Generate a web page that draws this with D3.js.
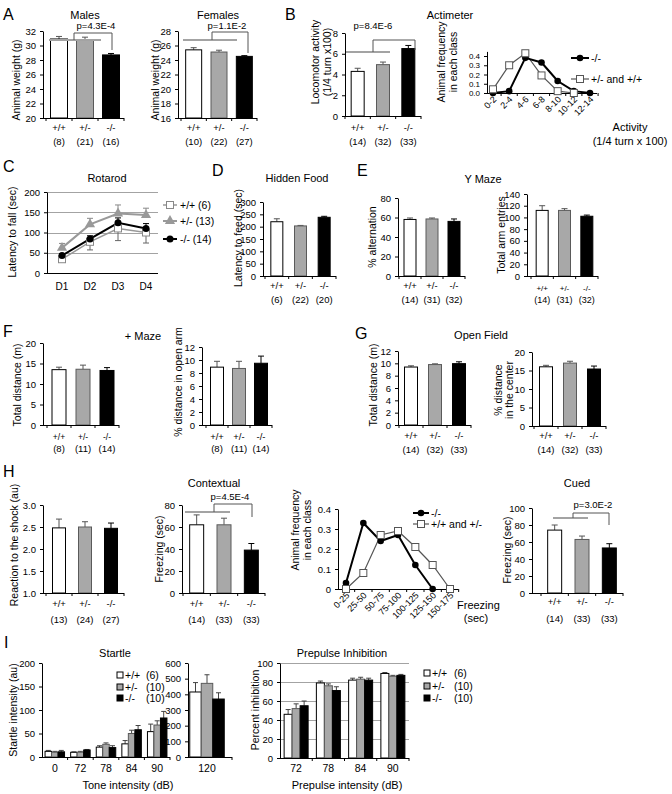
<!DOCTYPE html>
<html><head><meta charset="utf-8">
<script src="https://cdn.jsdelivr.net/npm/d3@7"></script>
<style>body{margin:0;background:#fff}svg{display:block}</style>
</head><body><svg id="fig" width="672" height="794"></svg>
<script>
// ---------------- DATA ----------------
const genotypes = ["+/+", "+/-", "-/-"];
// A
const maleWeight = [30.9, 30.8, 28.7];
const maleWeightSem = [0.35, 0.35, 0.2];
const maleN = ["(8)", "(21)", "(16)"];
const femaleWeight = [25.4, 25.1, 24.5];
const femaleWeightSem = [0.3, 0.25, 0.1];
const femaleN = ["(10)", "(22)", "(27)"];
const maleTicks = [20, 22, 24, 26, 28, 30, 32];
const femaleTicks = [16, 18, 20, 22, 24, 26, 28];
// B
const locomotor = [4.3, 4.95, 6.5];
const locomotorSem = [0.3, 0.25, 0.3];
const locomotorN = ["(14)", "(32)", "(33)"];
const locomotorTicks = [0, 2, 4, 6, 8];
const activityClasses = ["0-2", "2-4", "4-6", "6-8", "8-10", "10-12", "12-14"];
const activityKO = [0, 0.02, 0.38, 0.33, 0.13, 0.02, 0];
const activityCtrl = [0.04, 0.30, 0.43, 0.19, 0.02, 0, null];
const freqTicks = [0, 0.1, 0.2, 0.3, 0.4];
// C
const days = ["D1", "D2", "D3", "D4"];
const rotarodWT = [34, 77, 110, 100];
const rotarodWTSem = [6, 20, 30, 26];
const rotarodHet = [62, 120, 147, 143];
const rotarodHetSem = [11, 15, 21, 17];
const rotarodKO = [43, 84, 124, 110];
const rotarodKOSem = [5, 8, 12, 12];
const rotarodTicks = [0, 50, 100, 150, 200];
const rotarodLegend = ["+/+ (6)", "+/- (13)", "-/- (14)"];
// D
const hiddenFood = [220, 203, 238];
const hiddenFoodSem = [12, 2, 4];
const hiddenFoodN = ["(6)", "(22)", "(20)"];
const hiddenFoodTicks = [0, 50, 100, 150, 200, 250, 300];
// E
const alternation = [58, 58.5, 56];
const alternationSem = [1.5, 1, 2.5];
const armEntries = [112, 112, 102];
const armEntriesSem = [8, 3, 2];
const yMazeN = ["(14)", "(31)", "(32)"];
const alternationTicks = [0, 20, 40, 60, 80];
const armTicks = [0, 20, 40, 60, 80, 100, 120, 140];
// F
const plusDistance = [13.5, 13.6, 13.3];
const plusDistanceSem = [0.6, 1.0, 0.7];
const openArm = [8.9, 8.7, 9.5];
const openArmSem = [0.9, 1.1, 1.1];
const plusN = ["(8)", "(11)", "(14)"];
const plusDistTicks = [0, 5, 10, 15, 20];
const openArmTicks = [0, 2, 4, 6, 8, 10, 12];
// G
const ofDistance = [9.4, 9.8, 9.95];
const ofDistanceSem = [0.2, 0.12, 0.3];
const ofCenter = [16.0, 17.0, 15.4];
const ofCenterSem = [0.4, 0.5, 0.8];
const ofN = ["(14)", "(32)", "(33)"];
const ofDistTicks = [0, 2, 4, 6, 8, 10, 12];
const ofCenterTicks = [0, 5, 10, 15, 20];
// H
const shock = [2.48, 2.50, 2.47];
const shockSem = [0.2, 0.12, 0.12];
const shockN = ["(13)", "(24)", "(27)"];
const shockTicks = [1.0, 1.5, 2.0, 2.5, 3.0];
const contextual = [62, 62, 39];
const contextualSem = [9, 6, 6];
const contextualN = ["(14)", "(33)", "(33)"];
const contextualTicks = [0, 20, 40, 60, 80];
const freezeClasses = ["0-25", "25-50", "50-75", "75-100", "100-125", "125-150", "150-175"];
const freezeKO = [0.03, 0.33, 0.24, 0.27, 0.12, 0, null];
const freezeCtrl = [0, 0.08, 0.27, 0.29, 0.21, 0.12, 0];
const freezeTicks = [0, 0.1, 0.2, 0.3, 0.4];
const cued = [74, 63, 53];
const cuedSem = [6, 4, 5];
const cuedN = ["(14)", "(33)", "(33)"];
const cuedTicks = [0, 20, 40, 60, 80, 100];
// I
const toneLevels = ["0", "72", "78", "84", "90"];
const startleWT = [12, 10, 21, 28, 54];
const startleWTSem = [2, 1, 3, 7, 16];
const startleHet = [10, 10, 27, 50, 68];
const startleHetSem = [2, 2, 3, 7, 9];
const startleKO = [11, 15, 20, 58, 83];
const startleKOSem = [3, 1, 4, 9, 14];
const startleTicks = [0, 50, 100, 150, 200];
const tone120 = ["120"];
const startle120 = [415, 470, 370];
const startle120Sem = [60, 55, 40];
const startle120Ticks = [0, 100, 200, 300, 400, 500, 600];
const startleN = ["(6)", "(10)", "(10)"];
const prepulseLevels = ["72", "78", "84", "90"];
const ppiWT = [46, 79, 82, 89];
const ppiWTSem = [5, 2, 2, 1];
const ppiHet = [52, 76, 83, 86];
const ppiHetSem = [5, 2, 2, 1];
const ppiKO = [55, 71, 82, 87];
const ppiKOSem = [5, 4, 2, 1];
const ppiTicks = [0, 20, 40, 60, 80, 100];

// ---------------- STYLE ----------------
const FF = '"Liberation Sans", Arial, sans-serif';
const FS = { letter: 16, title: 11, ylab: 10.5, tick: 9.5, xlab: 9.5, n: 9.5, p: 9.5, leg: 10.5 };
const FILL = ["#ffffff", "#a8a8a8", "#000000"];
const STROKE = ["#000000", "#5a5a5a", "#000000"];
const GREY = "#a3a3a3";
const svg = d3.select("#fig");

function T(x, y, s, size, anchor) {
  return svg.append("text").attr("x", x).attr("y", y).attr("font-size", size)
    .attr("text-anchor", anchor || "middle").attr("font-family", FF).attr("fill", "#000").text(s);
}
function VT(x, y, s, size) {
  return svg.append("text").attr("transform", `translate(${x},${y}) rotate(-90)`)
    .attr("text-anchor", "middle").attr("font-size", size || FS.ylab).attr("font-family", FF).attr("fill", "#000").text(s);
}
function yAxis(g, scale, x, ticks, fmt, fs) {
  const a = g.append("g").attr("transform", `translate(${x},0)`)
    .call(d3.axisLeft(scale).tickValues(ticks).tickSize(3).tickSizeOuter(0).tickFormat(fmt));
  a.attr("font-family", FF).attr("font-size", fs);
  a.selectAll("text").attr("fill", "#000").attr("dx", "-1");
  a.selectAll("line,path").attr("stroke", "#000");
  return a;
}
function bracket(gx1, gx2, gy, vx, ty, bx, by) {
  svg.append("line").attr("x1", gx1).attr("x2", gx2).attr("y1", gy).attr("y2", gy)
    .attr("stroke", GREY).attr("stroke-width", 2);
  svg.append("path").attr("d", `M${vx},${gy}V${ty}H${bx}V${by}`).attr("fill", "none")
    .attr("stroke", "#555").attr("stroke-width", 1);
}
function barChart(o) {
  const g = svg.append("g");
  const n = o.vals.length;
  const x = d3.scaleBand().domain(d3.range(n)).range([o.x0, o.x1]);
  const y = d3.scaleLinear().domain(o.domain).range([o.yBot, o.yTop]);
  const cx = i => x(i) + x.bandwidth() / 2;
  g.selectAll("path.eb").data(o.vals).join("path").attr("class", "eb")
    .attr("d", (d, i) => `M${cx(i)},${y(d)}V${y(d + o.errs[i])}M${cx(i) - 3},${y(d + o.errs[i])}H${cx(i) + 3}`)
    .attr("stroke", (d, i) => i === 2 ? "#000" : "#555").attr("fill", "none");
  g.selectAll("rect").data(o.vals).join("rect")
    .attr("x", (d, i) => cx(i) - o.bw / 2).attr("width", o.bw)
    .attr("y", d => y(d)).attr("height", d => o.yBot - y(d))
    .attr("fill", (d, i) => FILL[i]).attr("stroke", (d, i) => STROKE[i]);
  yAxis(g, y, o.axisX, o.ticks, o.fmt || d3.format("d"), FS.tick);
  g.append("line").attr("x1", o.axisX).attr("x2", o.x1).attr("y1", o.yBot + 0.5).attr("y2", o.yBot + 0.5).attr("stroke", "#000");
  for (let i = 0; i <= n; i++) {
    const xx = i < n ? x(i) : o.x1;
    g.append("line").attr("x1", xx).attr("x2", xx).attr("y1", o.yBot).attr("y2", o.yBot + 3).attr("stroke", "#000");
  }
  const lf = o.lfs || FS.xlab;
  genotypes.forEach((s, i) => T(cx(i), o.lblY, s, lf));
  o.ns.forEach((s, i) => T(cx(i), o.nY, s, o.nfs || FS.n));
  return { x, y, cx };
}
function groupedBars(o) {
  const g = svg.append("g");
  const x = d3.scaleBand().domain(o.groups).range([o.x0, o.x1]);
  const y = d3.scaleLinear().domain(o.domain).range([o.yBot, o.yTop]);
  const xEnd = o.xEnd || o.x1;
  if (o.grid) {
    o.ticks.filter(t => t > 0).forEach(t => g.append("line").attr("x1", o.axisX).attr("x2", xEnd)
      .attr("y1", Math.round(y(t)) + 0.5).attr("y2", Math.round(y(t)) + 0.5).attr("stroke", GREY).attr("stroke-width", 1.2));
  }
  o.series.forEach((ser, s) => {
    const bx = grp => x(grp) + x.bandwidth() / 2 + (s - 1.5) * o.bw;
    g.selectAll(null).data(ser).join("path")
      .attr("d", (d, i) => { const c = bx(o.groups[i]) + o.bw / 2; const t = y(d + o.errs[s][i]);
        return `M${c},${y(d)}V${t}M${c - 2.5},${t}H${c + 2.5}`; })
      .attr("stroke", "#444").attr("fill", "none");
    g.selectAll(null).data(ser).join("rect")
      .attr("x", (d, i) => bx(o.groups[i])).attr("width", o.bw)
      .attr("y", d => y(d)).attr("height", d => o.yBot - y(d))
      .attr("fill", FILL[s]).attr("stroke", STROKE[s]);
  });
  yAxis(g, y, o.axisX, o.ticks, d3.format("d"), FS.tick);
  g.append("line").attr("x1", o.axisX).attr("x2", xEnd).attr("y1", o.yBot + 0.5).attr("y2", o.yBot + 0.5).attr("stroke", "#000");
  o.groups.forEach((gr, i) => {
    if (i > 0) g.append("line").attr("x1", x(gr)).attr("x2", x(gr)).attr("y1", o.yBot).attr("y2", o.yBot + 3).attr("stroke", "#000");
    T(x(gr) + x.bandwidth() / 2, o.lblY, gr, 10.5);
  });
  g.append("line").attr("x1", xEnd).attr("x2", xEnd).attr("y1", o.yBot).attr("y2", o.yBot + 3).attr("stroke", "#000");
  return { x, y };
}
function sq(g, cx, cy, s, stroke) {
  g.append("rect").attr("x", cx - s / 2).attr("y", cy - s / 2).attr("width", s).attr("height", s)
    .attr("fill", "#fff").attr("stroke", stroke || "#555");
}

// ---------------- PANEL A ----------------
T(3, 20, "A", FS.letter, "start");
T(85, 19, "Males", FS.title);
barChart({ vals: maleWeight, errs: maleWeightSem, ns: maleN, axisX: 43, x0: 46, x1: 124, yTop: 31, yBot: 118,
  domain: [20, 32], ticks: maleTicks, bw: 17, lblY: 131, nY: 145 });
VT(20, 80, "Animal weight (g)");
T(96, 29, "p=4.3E-4", FS.p);
bracket(49, 101, 40, 74, 33, 112, 50);

T(218, 19, "Females", FS.title);
barChart({ vals: femaleWeight, errs: femaleWeightSem, ns: femaleN, axisX: 178, x0: 181, x1: 257, yTop: 31, yBot: 118,
  domain: [16, 28], ticks: femaleTicks, bw: 16, lblY: 131, nY: 145 });
VT(159, 80, "Animal weight (g)");
T(227, 29, "p=1.1E-2", FS.p);
bracket(183, 237, 40, 212, 32, 248, 53);

// ---------------- PANEL B ----------------
T(285, 20, "B", FS.letter, "start");
barChart({ vals: locomotor, errs: locomotorSem, ns: locomotorN, axisX: 345, x0: 345, x1: 421, yTop: 33, yBot: 116,
  domain: [0, 8], ticks: locomotorTicks, bw: 13, lblY: 131, nY: 145 });
VT(319, 62, "Locomotor activity");
VT(331, 62, "(1/4 turn x100)");
T(373, 29, "p=8.4E-6", FS.p);
bracket(346, 390, 52, 373, 40, 415, 50);

T(450, 19, "Actimeter", FS.title);
(function () {
  const g = svg.append("g");
  const x = d3.scalePoint().domain(activityClasses).range([493, 590]);
  const y = d3.scaleLinear().domain([0, 0.45]).range([93, 51.4]);
  yAxis(g, y, 487, freqTicks, d3.format(".1f"), 8);
  g.append("line").attr("x1", 487).attr("x2", 597).attr("y1", 93.5).attr("y2", 93.5).attr("stroke", "#000");
  const step = x.step();
  activityClasses.forEach(c => {
    const xx = x(c) + step / 2;
    g.append("line").attr("x1", xx).attr("x2", xx).attr("y1", 93).attr("y2", 96).attr("stroke", "#000");
    g.append("text").attr("transform", `translate(${x(c) + 4},${100}) rotate(-45)`).attr("text-anchor", "end")
      .attr("font-size", 9).attr("font-family", FF).text(c);
  });
  const line = d3.line().defined(d => d != null).x((d, i) => x(activityClasses[i])).y(d => y(d));
  g.append("path").attr("d", line(activityCtrl)).attr("fill", "none").attr("stroke", "#555").attr("stroke-width", 1.2);
  g.append("path").attr("d", line(activityKO)).attr("fill", "none").attr("stroke", "#000").attr("stroke-width", 2);
  activityKO.forEach((d, i) => { if (d != null) g.append("circle").attr("cx", x(activityClasses[i])).attr("cy", y(d)).attr("r", 3.3).attr("fill", "#000"); });
  activityCtrl.forEach((d, i) => { if (d != null) sq(g, x(activityClasses[i]), y(d), 7); });
  g.append("line").attr("x1", 571).attr("x2", 589).attr("y1", 58).attr("y2", 58).attr("stroke", "#000").attr("stroke-width", 2);
  g.append("circle").attr("cx", 580).attr("cy", 58).attr("r", 3.3).attr("fill", "#000");
  g.append("line").attr("x1", 571).attr("x2", 589).attr("y1", 79).attr("y2", 79).attr("stroke", "#555").attr("stroke-width", 1.2);
  sq(g, 580, 79, 7);
})();
T(591, 62, "-/-", FS.leg, "start");
T(591, 83, "+/- and +/+", FS.leg, "start");
VT(445, 62, "Animal frequency");
VT(457, 62, "in each class");
T(630, 131, "Activity", FS.title);
T(630, 145, "(1/4 turn x 100)", FS.title);

// ---------------- PANEL C ----------------
T(3, 172, "C", FS.letter, "start");
T(107, 182, "Rotarod", FS.title);
(function () {
  const g = svg.append("g");
  const x = d3.scalePoint().domain(days).range([62, 146]);
  const y = d3.scaleLinear().domain([0, 200]).range([273, 192]);
  rotarodTicks.filter(t => t > 0).forEach(t => g.append("line").attr("x1", 47).attr("x2", 158)
    .attr("y1", Math.round(y(t)) + 0.5).attr("y2", Math.round(y(t)) + 0.5).attr("stroke", GREY).attr("stroke-width", 1.2));
  yAxis(g, y, 47, rotarodTicks, d3.format("d"), FS.tick);
  g.append("line").attr("x1", 47).attr("x2", 158).attr("y1", 273.5).attr("y2", 273.5).attr("stroke", "#000");
  days.forEach(d => T(x(d), 290, d, 10));
  const line = d3.line().x((d, i) => x(days[i])).y(d => y(d));
  const err = (vals, sems, dir, col) => vals.forEach((v, i) => {
    const cx = x(days[i]); const t = y(v + dir * sems[i]);
    g.append("path").attr("d", `M${cx},${y(v)}V${t}M${cx - 3},${t}H${cx + 3}`).attr("stroke", col).attr("fill", "none");
  });
  err(rotarodWT, rotarodWTSem, -1, "#666");
  err(rotarodHet, rotarodHetSem, 1, "#888");
  err(rotarodKO, rotarodKOSem, 1, "#000");
  err(rotarodKO, rotarodKOSem, -1, "#000");
  g.append("path").attr("d", line(rotarodWT)).attr("fill", "none").attr("stroke", "#999").attr("stroke-width", 1.5);
  g.append("path").attr("d", line(rotarodHet)).attr("fill", "none").attr("stroke", "#999").attr("stroke-width", 2);
  g.append("path").attr("d", line(rotarodKO)).attr("fill", "none").attr("stroke", "#000").attr("stroke-width", 2);
  const tri = d3.symbol().type(d3.symbolTriangle).size(45);
  rotarodWT.forEach((v, i) => sq(g, x(days[i]), y(v), 7, "#888"));
  rotarodHet.forEach((v, i) => g.append("path").attr("d", tri()).attr("transform", `translate(${x(days[i])},${y(v)})`).attr("fill", "#999"));
  rotarodKO.forEach((v, i) => g.append("circle").attr("cx", x(days[i])).attr("cy", y(v)).attr("r", 3.5).attr("fill", "#000"));
  const ly = [205, 221, 239];
  g.append("line").attr("x1", 163).attr("x2", 177).attr("y1", ly[0]).attr("y2", ly[0]).attr("stroke", "#999").attr("stroke-width", 1.5);
  sq(g, 170, ly[0], 7, "#888");
  g.append("line").attr("x1", 163).attr("x2", 177).attr("y1", ly[1]).attr("y2", ly[1]).attr("stroke", "#999").attr("stroke-width", 2);
  g.append("path").attr("d", tri()).attr("transform", `translate(170,${ly[1]})`).attr("fill", "#999");
  g.append("line").attr("x1", 163).attr("x2", 177).attr("y1", ly[2]).attr("y2", ly[2]).attr("stroke", "#000").attr("stroke-width", 2);
  g.append("circle").attr("cx", 170).attr("cy", ly[2]).attr("r", 3.5).attr("fill", "#000");
  rotarodLegend.forEach((s, i) => T(180, ly[i] + 4, s, FS.leg, "start"));
})();
VT(16, 232, "Latency to fall (sec)");

// ---------------- PANEL D ----------------
T(212, 176, "D", FS.letter, "start");
T(297, 182, "Hidden Food", FS.title);
barChart({ vals: hiddenFood, errs: hiddenFoodSem, ns: hiddenFoodN, axisX: 263, x0: 265, x1: 336, yTop: 202, yBot: 276,
  domain: [0, 300], ticks: hiddenFoodTicks, bw: 12, lblY: 289, nY: 303 });
VT(242, 238, "Latency to feed (sec)");

// ---------------- PANEL E ----------------
T(357, 176, "E", FS.letter, "start");
T(483, 183, "Y Maze", FS.title);
barChart({ vals: alternation, errs: alternationSem, ns: yMazeN, axisX: 398, x0: 399, x1: 465, yTop: 198, yBot: 276,
  domain: [0, 80], ticks: alternationTicks, bw: 12, lblY: 289, nY: 303 });
VT(376, 237, "% alternation");
barChart({ vals: armEntries, errs: armEntriesSem, ns: yMazeN, axisX: 527, x0: 531, x1: 598, yTop: 194, yBot: 276,
  domain: [0, 140], ticks: armTicks, bw: 12, lblY: 291, nY: 303, lfs: 8, nfs: 9 });
VT(505, 235, "Total arm entries");

// ---------------- PANEL F ----------------
T(3, 337, "F", FS.letter, "start");
T(143, 340, "+ Maze", FS.title);
barChart({ vals: plusDistance, errs: plusDistanceSem, ns: plusN, axisX: 43, x0: 47, x1: 119, yTop: 343, yBot: 425,
  domain: [0, 20], ticks: plusDistTicks, bw: 14, lblY: 440, nY: 452, lfs: 8.5 });
VT(21, 385, "Total distance (m)");
barChart({ vals: openArm, errs: openArmSem, ns: plusN, axisX: 202, x0: 206, x1: 272, yTop: 347, yBot: 425,
  domain: [0, 12], ticks: openArmTicks, bw: 13, lblY: 440, nY: 452 });
VT(182, 382, "% distance in open arm");

// ---------------- PANEL G ----------------
T(355, 339, "G", FS.letter, "start");
T(481, 339, "Open Field", FS.title);
barChart({ vals: ofDistance, errs: ofDistanceSem, ns: ofN, axisX: 398, x0: 399, x1: 471, yTop: 351, yBot: 425,
  domain: [0, 12], ticks: ofDistTicks, bw: 13, lblY: 439, nY: 453 });
VT(377, 385, "Total distance (m)");
barChart({ vals: ofCenter, errs: ofCenterSem, ns: ofN, axisX: 532, x0: 534, x1: 606, yTop: 352, yBot: 426,
  domain: [0, 20], ticks: ofCenterTicks, bw: 13, lblY: 439, nY: 453 });
VT(502, 390, "% distance");
VT(513, 390, "in the center");

// ---------------- PANEL H ----------------
T(3, 477, "H", FS.letter, "start");
barChart({ vals: shock, errs: shockSem, ns: shockN, axisX: 43, x0: 46, x1: 124, yTop: 505, yBot: 593,
  domain: [1, 3], ticks: shockTicks, fmt: d3.format(".1f"), bw: 13, lblY: 607, nY: 623 });
VT(18, 545, "Reaction to the shock (au)");

T(214, 487, "Contextual", FS.title);
barChart({ vals: contextual, errs: contextualSem, ns: contextualN, axisX: 182, x0: 183, x1: 265, yTop: 505, yBot: 593,
  domain: [0, 80], ticks: contextualTicks, bw: 14, lblY: 607, nY: 623 });
VT(163, 549, "Freezing (sec)");
T(230, 500, "p=4.5E-4", FS.p);
bracket(185, 230, 512, 214, 504, 252, 517);

(function () {
  const g = svg.append("g");
  const x = d3.scalePoint().domain(freezeClasses).range([346, 450]);
  const y = d3.scaleLinear().domain([0, 0.4]).range([589, 509]);
  yAxis(g, y, 338, freezeTicks, d => d === 0 ? "0" : d3.format(".1f")(d), FS.tick);
  g.append("line").attr("x1", 338).attr("x2", 458).attr("y1", 589.5).attr("y2", 589.5).attr("stroke", "#000");
  const step = x.step();
  freezeClasses.forEach(c => {
    const xx = x(c) + step / 2;
    g.append("line").attr("x1", xx).attr("x2", xx).attr("y1", 589).attr("y2", 592).attr("stroke", "#000");
    g.append("text").attr("transform", `translate(${x(c) + 4},${596}) rotate(-45)`).attr("text-anchor", "end")
      .attr("font-size", 9).attr("font-family", FF).text(c);
  });
  const line = d3.line().defined(d => d != null).x((d, i) => x(freezeClasses[i])).y(d => y(d));
  g.append("path").attr("d", line(freezeCtrl)).attr("fill", "none").attr("stroke", "#555").attr("stroke-width", 1.2);
  g.append("path").attr("d", line(freezeKO)).attr("fill", "none").attr("stroke", "#000").attr("stroke-width", 2);
  freezeKO.forEach((d, i) => { if (d != null) g.append("circle").attr("cx", x(freezeClasses[i])).attr("cy", y(d)).attr("r", 3.3).attr("fill", "#000"); });
  freezeCtrl.forEach((d, i) => { if (d != null) sq(g, x(freezeClasses[i]), y(d), 7); });
  g.append("line").attr("x1", 413).attr("x2", 429).attr("y1", 513).attr("y2", 513).attr("stroke", "#000").attr("stroke-width", 2);
  g.append("circle").attr("cx", 421).attr("cy", 513).attr("r", 3.3).attr("fill", "#000");
  g.append("line").attr("x1", 413).attr("x2", 429).attr("y1", 524).attr("y2", 524).attr("stroke", "#555").attr("stroke-width", 1.2);
  sq(g, 421, 524, 7);
})();
T(431, 517, "-/-", FS.leg, "start");
T(431, 528, "+/+ and +/-", FS.leg, "start");
VT(299, 530, "Animal frequency");
VT(311, 530, "in each class");
T(457, 609, "Freezing", FS.title, "start");
T(476, 622, "(sec)", FS.title);

T(577, 487, "Cued", FS.title);
barChart({ vals: cued, errs: cuedSem, ns: cuedN, axisX: 532, x0: 541, x1: 623, yTop: 508, yBot: 593,
  domain: [0, 100], ticks: cuedTicks, bw: 14, lblY: 605, nY: 622 });
VT(511, 550, "Freezing (sec)");
T(593, 508, "p=3.0E-2", FS.p);
bracket(553, 588, 518, 573, 513, 609, 525);

// ---------------- PANEL I ----------------
T(4, 648, "I", FS.letter, "start");
T(115, 657, "Startle", FS.title);
groupedBars({ groups: toneLevels, series: [startleWT, startleHet, startleKO], errs: [startleWTSem, startleHetSem, startleKOSem],
  axisX: 42, x0: 42, x1: 170, yTop: 663, yBot: 757, domain: [0, 200], ticks: startleTicks, bw: 6.5, lblY: 772 });
groupedBars({ groups: tone120, series: [[startle120[0]], [startle120[1]], [startle120[2]]],
  errs: [[startle120Sem[0]], [startle120Sem[1]], [startle120Sem[2]]],
  axisX: 188, x0: 188, x1: 226, xEnd: 232, yTop: 663, yBot: 757, domain: [0, 600], ticks: startle120Ticks, bw: 11.5, lblY: 772 });
VT(17, 710, "Startle intensity (au)");
T(128, 789, "Tone intensity (dB)", FS.title);
{
  const g = svg.append("g");
  const ly = [675, 687, 698];
  genotypes.forEach((s, i) => {
    g.append("rect").attr("x", 117).attr("y", ly[i] - 3).attr("width", 6).attr("height", 6).attr("fill", FILL[i]).attr("stroke", "#000");
    T(125, ly[i] + 4, s, FS.leg, "start");
    T(146, ly[i] + 4, startleN[i], FS.leg, "start");
  });
}

T(342, 657, "Prepulse Inhibition", FS.title);
groupedBars({ groups: prepulseLevels, series: [ppiWT, ppiHet, ppiKO], errs: [ppiWTSem, ppiHetSem, ppiKOSem],
  axisX: 280, x0: 280, x1: 409, yTop: 663, yBot: 758, domain: [0, 100], ticks: ppiTicks, bw: 8, lblY: 772, grid: true });
VT(259, 710, "Percent inhibition");
T(347, 789, "Prepulse intensity (dB)", FS.title);
{
  const g = svg.append("g");
  const ly = [673, 686, 698];
  genotypes.forEach((s, i) => {
    g.append("rect").attr("x", 424).attr("y", ly[i] - 3).attr("width", 6).attr("height", 6).attr("fill", FILL[i]).attr("stroke", "#000");
    T(432, ly[i] + 4, s, FS.leg, "start");
    T(454, ly[i] + 4, startleN[i], FS.leg, "start");
  });
}
</script></body></html>
